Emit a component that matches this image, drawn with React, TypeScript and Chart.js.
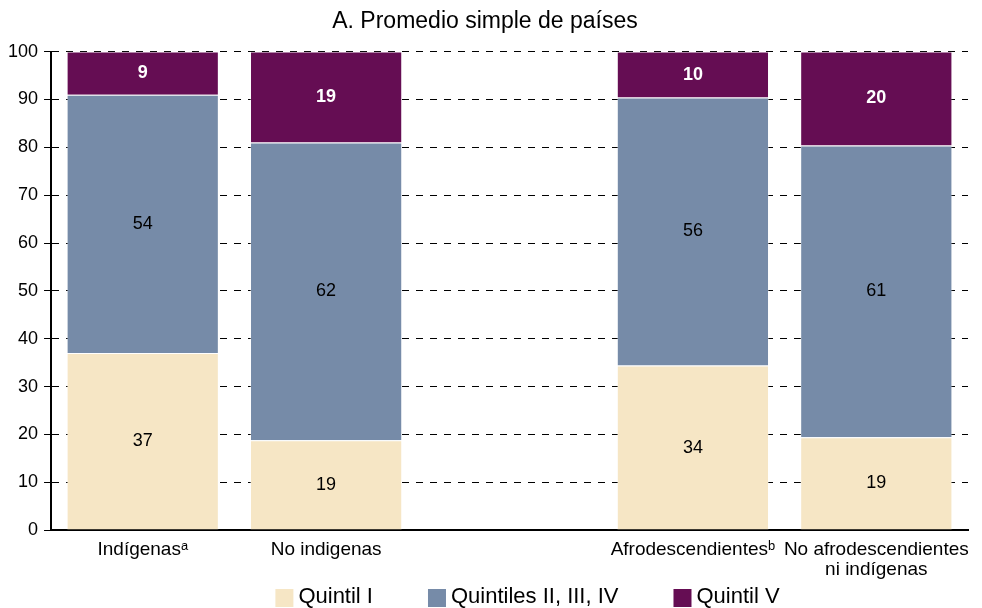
import React, { useEffect, useRef } from "react";
import { Chart, registerables } from "chart.js";

Chart.register(...registerables);

const categories: (string | string[])[] = [
  "Indígenasᵃ",
  "No indigenas",
  "",
  "Afrodescendientesᵇ",
  ["No afrodescendientes", "ni indígenas"],
];
const quintilI: (number | null)[] = [37, 18.8, null, 34.4, 19.4];
const quintilesMid: (number | null)[] = [54, 62.2, null, 56, 61];
const quintilV: (number | null)[] = [9, 19, null, 9.6, 19.6];
const yTicks = { min: 0, max: 100, step: 10 };
const title = "A. Promedio simple de países";

const FONT = "'Liberation Sans', Arial, sans-serif";

const valueLabels = {
  id: "valueLabels",
  afterDatasetsDraw(chart: any) {
    const ctx = chart.ctx;
    chart.data.datasets.forEach((ds: any, di: number) => {
      const meta = chart.getDatasetMeta(di);
      meta.data.forEach((el: any, i: number) => {
        const v = ds.data[i];
        if (v == null) return;
        const p = el.getCenterPoint();
        ctx.save();
        ctx.textAlign = "center";
        ctx.textBaseline = "middle";
        if (di === 2) {
          ctx.fillStyle = "#ffffff";
          ctx.font = `bold 18px ${FONT}`;
        } else {
          ctx.fillStyle = "#000000";
          ctx.font = `18px ${FONT}`;
        }
        ctx.fillText(String(Math.round(v)), p.x, p.y);
        ctx.restore();
      });
    });
  },
};

const bottomLegend = {
  id: "bottomLegend",
  afterDraw(chart: any) {
    const ctx = chart.ctx;
    const box = 18;
    const boxGap = 5;
    const itemGap = 55;
    ctx.save();
    ctx.font = `22px ${FONT}`;
    const items = chart.data.datasets.map((ds: any) => ({
      text: ds.label as string,
      color: ds.backgroundColor as string,
      w: ctx.measureText(ds.label).width,
    }));
    const total =
      items.reduce((s: number, it: any) => s + box + boxGap + it.w, 0) +
      itemGap * (items.length - 1);
    const ca = chart.chartArea;
    let x = (ca.left + ca.right) / 2 + 18 - total / 2;
    const cy = chart.height - 11;
    ctx.textBaseline = "middle";
    ctx.textAlign = "left";
    items.forEach((it: any) => {
      ctx.fillStyle = it.color;
      ctx.fillRect(x, cy - box / 2 + 1, box, box);
      ctx.fillStyle = "#000";
      ctx.fillText(it.text, x + box + boxGap, cy);
      x += box + boxGap + it.w + itemGap;
    });
    ctx.restore();
  },
};

export default function App() {
  const ref = useRef<HTMLCanvasElement | null>(null);
  useEffect(() => {
    document.body.style.margin = "0";
    if (!ref.current) return;
    const chart = new Chart(ref.current, {
      type: "bar",
      data: {
        labels: categories,
        datasets: [
          {
            label: "Quintil I",
            data: quintilI,
            backgroundColor: "#F6E6C5",
            borderColor: "rgba(255,255,255,0.35)",
            borderWidth: 1,
          },
          {
            label: "Quintiles II, III, IV",
            data: quintilesMid,
            backgroundColor: "#768BA8",
            borderColor: "rgba(255,255,255,0.35)",
            borderWidth: 1,
          },
          {
            label: "Quintil V",
            data: quintilV,
            backgroundColor: "#650D53",
            borderColor: "rgba(255,255,255,0.35)",
            borderWidth: 1,
          },
        ],
      },
      options: {
        animation: false,
        responsive: false,
        maintainAspectRatio: false,
        layout: { padding: { left: 2, right: 14, top: 0, bottom: 18 } },
        datasets: {
          bar: { barPercentage: 0.83, categoryPercentage: 1 },
        },
        plugins: {
          title: {
            display: true,
            text: title,
            color: "#000",
            font: { family: FONT, size: 23, weight: "normal" },
            padding: { top: 8, bottom: 16 },
          },
          legend: { display: false },
          tooltip: { enabled: false },
        },
        scales: {
          x: {
            stacked: true,
            grid: { display: false, drawTicks: false },
            border: { display: true, color: "#000", width: 2 },
            ticks: {
              color: "#000",
              font: { family: FONT, size: 19, lineHeight: 1.05 },
              padding: 10,
              maxRotation: 0,
              autoSkip: false,
            },
          },
          y: {
            stacked: true,
            min: yTicks.min,
            max: yTicks.max,
            grid: {
              color: "#000",
              lineWidth: 1,
              tickLength: 7,
              tickColor: "#000",
              tickBorderDash: [],
            } as any,
            border: { display: true, color: "#000", width: 2, dash: [7, 7] },
            ticks: {
              stepSize: yTicks.step,
              color: "#000",
              font: { family: FONT, size: 18 },
              padding: 6,
            },
          },
        },
      },
      plugins: [valueLabels, bottomLegend],
    });
    return () => chart.destroy();
  }, []);
  return (
    <div style={{ width: 982, height: 608 }}>
      <canvas ref={ref} width={982} height={608} />
    </div>
  );
}
